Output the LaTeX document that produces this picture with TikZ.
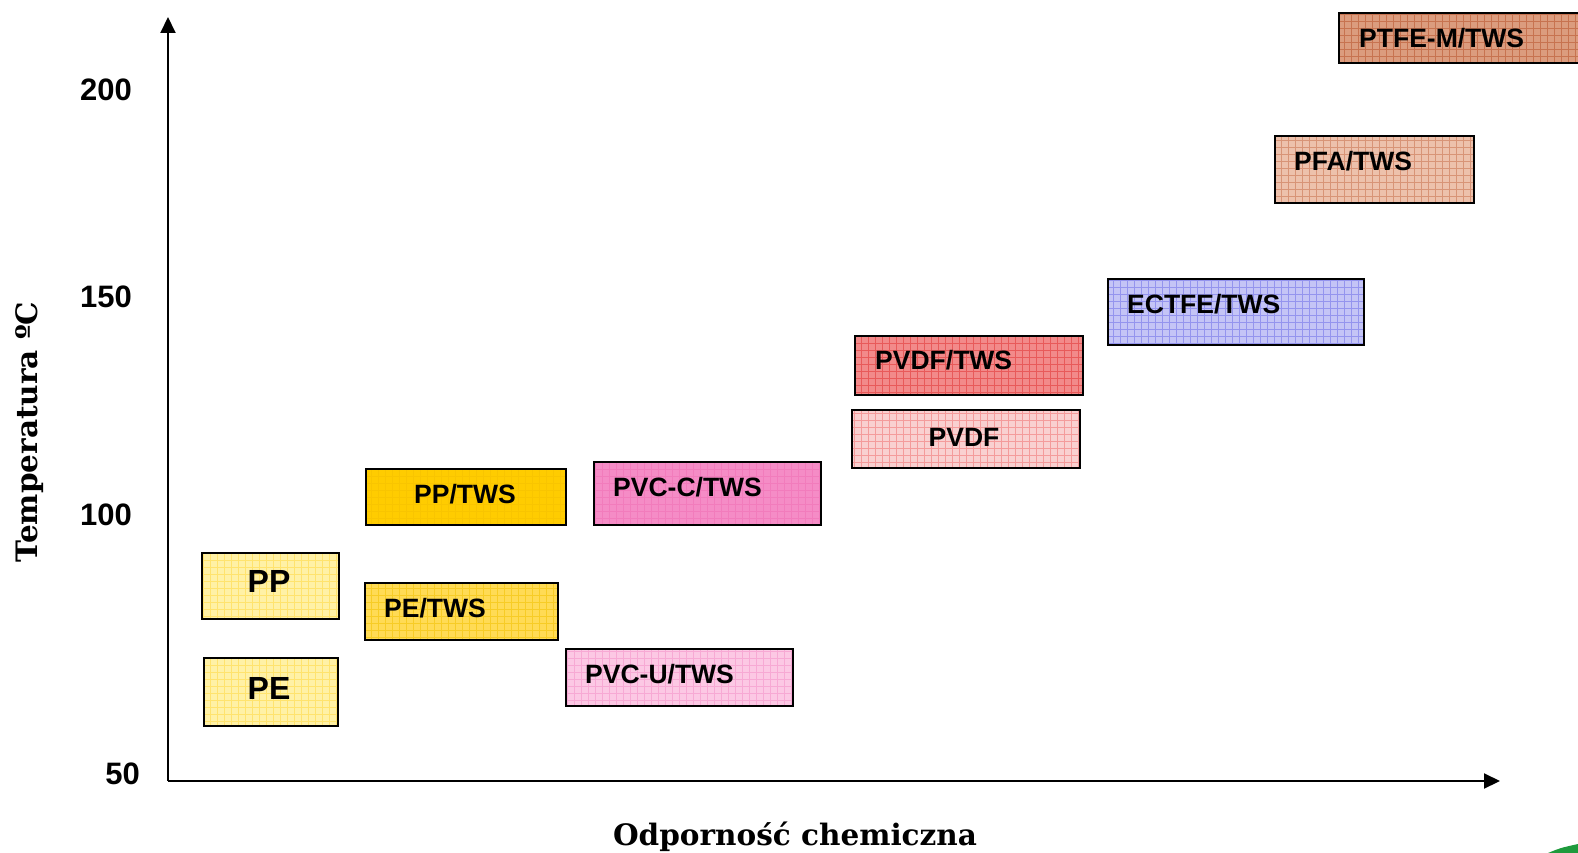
\documentclass[tikz,border=0pt]{standalone}
\usepackage{fontspec}
\setmainfont{Liberation Sans}
\newfontfamily\titlefont{DejaVu Serif}
\usetikzlibrary{arrows.meta}
% box colours: fill and grid line
\definecolor{ptfe}{HTML}{DB9C7E}\definecolor{ptfe-g}{HTML}{B8532C}
\definecolor{pfa}{HTML}{EDC1AC}\definecolor{pfa-g}{HTML}{C8704C}
\definecolor{ectfe}{HTML}{C4C4F6}\definecolor{ectfe-g}{HTML}{6E6EE8}
\definecolor{pvdft}{HTML}{F28A8A}\definecolor{pvdft-g}{HTML}{E03434}
\definecolor{pvdf}{HTML}{F9D0D0}\definecolor{pvdf-g}{HTML}{F07070}
\definecolor{pvcc}{HTML}{F58CC6}\definecolor{pvcc-g}{HTML}{F070B4}
\definecolor{pvcu}{HTML}{FCC8E4}\definecolor{pvcu-g}{HTML}{F490C8}
\definecolor{pptws}{HTML}{FFCC00}\definecolor{pptws-g}{HTML}{F5C000}
\definecolor{petws}{HTML}{FFDB55}\definecolor{petws-g}{HTML}{F2C000}
\definecolor{ppe}{HTML}{FFF1A6}\definecolor{ppe-g}{HTML}{FFD840}
\definecolor{corner}{HTML}{1E9A3C}
\begin{document}
\begin{tikzpicture}[x=1pt,y=-1pt,line join=miter]
	\tikzset{matbox/.style={draw=black,line width=1.8pt,inner sep=0pt,anchor=north west},
		lbl/.style={font=\fontsize{26.5}{30}\selectfont\bfseries,inner sep=0pt},
		biglbl/.style={font=\fontsize{32}{36}\selectfont\bfseries,inner sep=0pt},
		tick/.style={font=\fontsize{31}{34}\selectfont\bfseries,anchor=east,inner sep=0pt},
		axtitle/.style={font=\titlefont\fontsize{29.5}{32}\selectfont\bfseries,inner sep=0pt},
		axis/.style={line width=2pt,-{Triangle[length=16pt,width=15pt]}}}
	\useasboundingbox (0,0) rectangle (1578,853);
	\begin{scope}
		\clip (0,0) rectangle (1578,853);
		\foreach \n/\xa/\ya/\xb/\yb/\col/\t/\st/\an/\lx/\ly in {
			ptfe/1338/12/1600/62/ptfe/PTFE-M{/}TWS/lbl/west/1359/38,
			pfa/1274/135/1473/202/pfa/PFA{/}TWS/lbl/west/1294/161,
			ectfe/1107/278/1363/344/ectfe/ECTFE{/}TWS/lbl/west/1127/304,
			pvdftws/854/335/1082/394/pvdft/PVDF{/}TWS/lbl/west/875/360,
			pvdf/851/409/1079/467/pvdf/PVDF/lbl/center/964/437,
			pvcctws/593/461/820/524/pvcc/PVC-C{/}TWS/lbl/west/613/487,
			pptws/365/468/565/524/pptws/PP{/}TWS/lbl/center/465/494,
			pp/201/552/338/618/ppe/PP/biglbl/center/269/581,
			petws/364/582/557/639/petws/PE{/}TWS/lbl/west/384/608,
			pe/203/657/337/725/ppe/PE/biglbl/center/269/688,
			pvcutws/565/648/792/705/pvcu/PVC-U{/}TWS/lbl/west/585/674}
		{
			\fill[\col] (\xa,\ya) rectangle (\xb,\yb);
			\begin{scope}
				\clip (\xa,\ya) rectangle (\xb,\yb);
				\draw[\col-g,opacity=0.55,line width=0.5pt,step=7pt] (\xa,\yb) grid (\xb,\ya);
			\end{scope}
			\node[matbox,minimum width={(\xb-\xa)*1pt},minimum height={(\yb-\ya)*1pt}] (\n) at (\xa,\ya) {};
			\node[\st,anchor=\an] (\n-t) at (\lx,\ly) {\t};
		}
		% green corner at the bottom right
		\fill[corner] (1548,853) .. controls (1560,848) .. (1578,844) -- (1578,853) -- cycle;
	\end{scope}
	% axes
	\coordinate (o) at (168,781);
	\coordinate (ytop) at (168,17);
	\coordinate (xend) at (1500,781);
	\draw[axis] (o) -- (ytop);
	\draw[axis] (o) -- (xend);
	\foreach \y/\v in {90/200,297/150,515/100,774/50}
	\node[tick] (t\v) at (\ifnum\v=50 140\else 132\fi,\y) {\v};
	\node[axtitle,rotate=90] (ylab) at (30,432) {Temperatura ºC};
	\node[axtitle] (xlab) at (795,837) {Odporność chemiczna};
\end{tikzpicture}
\end{document}
